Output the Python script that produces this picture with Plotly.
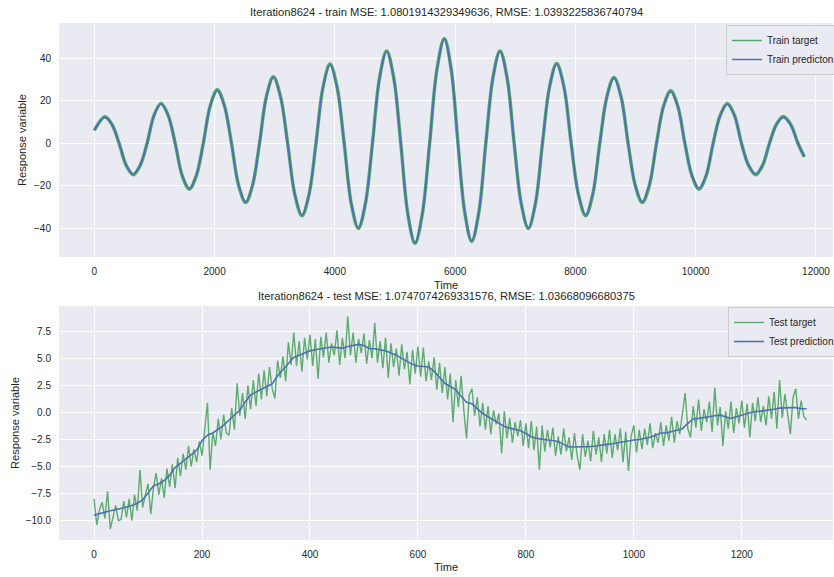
import plotly.graph_objects as go

# ---------------- data ----------------
train_x = [0, 177, 295, 412, 530, 648, 763, 878, 994, 1109, 1227, 1345, 1462, 1580, 1696, 1812,
           1929, 2045, 2163, 2281, 2399, 2517, 2632, 2747, 2862, 2977, 3096, 3215, 3334, 3453,
           3570, 3686, 3803, 3919, 4037, 4155, 4273, 4390, 4508, 4625, 4743, 4861, 4979, 5096,
           5214, 5332, 5454, 5576, 5698, 5820, 5934, 6047, 6161, 6275, 6393, 6510, 6628, 6746,
           6864, 6981, 7099, 7217, 7335, 7452, 7570, 7688, 7809, 7929, 8050, 8170, 8288, 8405,
           8523, 8641, 8759, 8876, 8994, 9112, 9230, 9348, 9466, 9584, 9702, 9820, 9938, 10055,
           10173, 10290, 10408, 10526, 10644, 10761, 10879, 10997, 11112, 11227, 11342, 11457,
           11579, 11700, 11806]
train_pred = [6.3, 12.2, 8.7, 0, -10.2, -14.4, -10.2, 0, 13.1, 18.4, 13.1, 0, -15.1, -21.2, -15.1, 0,
              17.6, 24.8, 17.6, 0, -19.5, -27.5, -19.5, 0, 21.9, 30.9, 21.9, 0, -23.9, -33.7,
              -23.9, 0, 26.2, 36.9, 26.2, 0, -28.2, -39.7, -28.2, 0, 30.6, 43.1, 30.6, 0,
              -33.2, -46.7, -33.2, 0, 34.7, 48.9, 34.7, 0, -32.5, -45.8, -32.5, 0, 30.6, 43.1,
              30.6, 0, -28.2, -39.7, -28.2, 0, 26.4, 37.2, 26.4, 0, -23.9, -33.7, -23.9, 0,
              21.7, 30.6, 21.7, 0, -19.5, -27.5, -19.5, 0, 17.3, 24.3, 17.3, 0, -15.1, -21.2,
              -15.1, 0, 13.0, 18.3, 13.0, 0, -10.2, -14.4, -10.2, 0, 8.7, 12.2,
              8.7, 0, -6.0]
train_target = [6.0, 12.5, 8.8, 0, -10.4, -14.8, -10.4, 0, 13.3, 18.8, 13.3, 0, -15.3, -21.6, -15.3, 0,
                17.8, 25.2, 17.8, 0, -19.7, -27.9, -19.7, 0, 22.1, 31.3, 22.1, 0, -24.1, -34.1,
                -24.1, 0, 26.4, 37.3, 26.4, 0, -28.4, -40.1, -28.4, 0, 30.8, 43.5, 30.8, 0,
                -33.4, -47.1, -33.4, 0, 34.9, 49.3, 34.9, 0, -32.7, -46.2, -32.7, 0, 30.8, 43.5,
                30.8, 0, -28.4, -40.1, -28.4, 0, 26.6, 37.6, 26.6, 0, -24.1, -34.1, -24.1, 0,
                21.9, 31.0, 21.9, 0, -19.7, -27.9, -19.7, 0, 17.5, 24.7, 17.5, 0, -15.3, -21.6,
                -15.3, 0, 13.2, 18.7, 13.2, 0, -10.4, -14.8, -10.4, 0, 8.9, 12.6,
                8.9, 0, -6.4]

test_pred_x = list(range(0, 1330, 10))
test_pred = [-9.5, -9.35, -9.2, -9.1, -9.0, -8.9, -8.75, -8.6, -8.4, -8.1,
             -7.4, -6.8, -6.6, -6.3, -5.8, -5.1, -4.7, -4.3, -3.95, -3.5,
             -2.6, -2.1, -1.9, -1.55, -1.2, -0.7, -0.25, 0.2, 1.0, 1.6,
             1.9, 2.15, 2.4, 2.65, 3.4, 4.0, 4.5, 5.1, 5.3, 5.5,
             5.7, 5.8, 5.9, 6.0, 6.05, 6.0, 5.95, 6.1, 6.2, 6.3,
             6.2, 5.9, 5.9, 5.8, 5.7, 5.5, 5.3, 5.0, 4.7, 4.45,
             4.3, 4.25, 4.2, 3.8, 3.2, 2.7, 2.4, 2.1, 1.5, 0.95,
             0.8, 0.35, -0.1, -0.4, -0.7, -1.0, -1.3, -1.45, -1.6, -1.7,
             -1.95, -2.25, -2.4, -2.5, -2.55, -2.6, -2.7, -2.95, -3.2, -3.2,
             -3.2, -3.2, -3.15, -3.1, -3.0, -2.95, -2.9, -2.8, -2.75, -2.65,
             -2.55, -2.5, -2.4, -2.3, -2.1, -1.9, -1.9, -1.75, -1.65, -1.5,
             -1.0, -0.6, -0.55, -0.45, -0.4, -0.3, -0.25, -0.4, -0.55, -0.4,
             -0.25, -0.1, 0.05, 0.1, 0.15, 0.2, 0.3, 0.4, 0.45, 0.45,
             0.45, 0.35, 0.35]

test_x = list(range(0, 1325, 5))
test_target = [
    -8.0, -10.4, -9.0, -8.3, -9.8, -7.3, -10.8, -9.6, -8.6, -10.0,
    -9.9, -8.2, -9.7, -8.0, -10.0, -7.6, -9.1, -5.3, -8.8, -7.6,
    -6.6, -9.4, -7.0, -5.6, -7.6, -6.1, -7.9, -5.2, -6.9, -4.8,
    -7.0, -4.2, -5.9, -3.8, -5.3, -3.1, -5.0, -3.4, -4.6, -2.7,
    -4.0, -1.6, 0.9, -5.3, -1.8, -3.1, -0.6, -2.5, -0.2, -1.9,
    -2.1, 0.4, -1.6, 2.7, -0.3, 1.8, -0.6, 2.5, 0.3, 3.0,
    0.6, 3.6, 1.2, 3.9, 1.5, 4.2, 2.2, 1.3, 4.8, 3.2,
    5.2, 2.9, 6.5, 4.4, 7.4, 4.3, 6.6, 3.8, 6.9, 4.9,
    7.2, 4.3, 6.8, 3.1, 7.0, 5.1, 7.4, 4.6, 6.4, 5.3,
    7.6, 4.4, 6.9, 5.0, 8.9, 5.3, 7.4, 4.6, 6.8, 5.5,
    7.3, 4.5, 6.7, 5.0, 8.3, 4.6, 6.6, 4.1, 6.9, 3.2,
    6.4, 4.2, 5.9, 3.4, 6.3, 4.0, 5.6, 2.6, 5.8, 3.6,
    6.1, 3.3, 6.0, 2.9, 4.7, 3.0, 5.1, 2.1, 4.6, 1.8,
    4.2, 1.2, 3.6, -0.9, 3.0, 0.5, 3.4, 0.2, -2.4, 1.6,
    2.2, -0.3, 1.4, -1.3, 0.9, -1.6, 0.6, -2.0, 0.2, -1.1,
    -0.1, -3.8, 0.1, -2.4, -0.5, -2.8, -0.9, -2.2, -0.7, -3.1,
    -1.0, -3.3, -0.8, -3.5, -1.3, -5.3, -1.2, -3.6, -1.6, -3.2,
    -1.4, -4.0, -2.2, -3.9, -1.5, -3.6, -2.3, -4.4, -1.9, -4.0,
    -5.3, -2.0, -4.1, -2.6, -4.5, -1.7, -3.9, -2.3, -4.6, -2.0,
    -3.8, -1.6, -4.2, -2.0, -3.5, -1.5, -4.6, -1.8, -5.4, -2.2,
    -1.2, -3.7, -1.6, -3.4, -1.5, -3.0, -1.0, -3.3, -1.9, -2.8,
    -0.9, -3.1, -1.2, -2.6, -0.4, -2.8, -0.8, -2.0, 0.1, 1.8,
    -1.5, -2.3, 0.6, -1.4, 1.2, -1.7, 0.3, -0.9, 1.0, -1.8,
    2.3, -1.2, 0.5, -3.1, 0.1, -1.5, 1.0, -1.9, 0.4, -1.0,
    1.1, -1.4, 0.8, -2.3, 0.9, -0.8, 1.4, -0.9, 0.6, -1.2,
    1.5, -0.6, 1.9, -1.5, 3.0, -0.5, 1.7, -0.2, -2.0, 1.4,
    2.2, -0.6, 1.1, -0.4, -0.7]

top_xticks = [0, 2000, 4000, 6000, 8000, 10000, 12000]
top_xtext = ["0", "2000", "4000", "6000", "8000", "10000", "12000"]
top_yticks = [-40, -20, 0, 20, 40]
top_ytext = ["\u221240", "\u221220", "0", "20", "40"]
bot_xticks = [0, 200, 400, 600, 800, 1000, 1200]
bot_xtext = ["0", "200", "400", "600", "800", "1000", "1200"]
bot_yticks = [-10, -7.5, -5, -2.5, 0, 2.5, 5, 7.5]
bot_ytext = ["\u221210.0", "\u22127.5", "\u22125.0", "\u22122.5", "0.0", "2.5", "5.0", "7.5"]

title_top = "Iteration8624 - train MSE: 1.0801914329349636, RMSE: 1.0393225836740794"
title_bot = "Iteration8624 - test MSE: 1.0747074269331576, RMSE: 1.03668096680375"

# ---------------- style ----------------
GREEN = "#55A868"
BLUE = "#4C72B0"
BG = "#EAEAF2"
TXT = "#262626"
FONT = "Liberation Sans, Arial, sans-serif"

W, H = 834, 577
ML, MR, MT, MB = 59, 1, 23, 37
PH = H - MT - MB  # 517
PW = W - ML - MR  # 774


def py(px):
    return (H - MB - px) / PH


def pxx(px):
    return (px - ML) / PW


fig = go.Figure()
# top: noisy target drawn as a band under the prediction
fig.add_trace(go.Scatter(x=train_x, y=train_target, mode="lines", name="Train target",
                         line=dict(color=GREEN, width=3.4, shape="spline", smoothing=1.0),
                         xaxis="x", yaxis="y", showlegend=False))
fig.add_trace(go.Scatter(x=train_x, y=train_pred, mode="lines", name="Train predicton",
                         line=dict(color=BLUE, width=1.8, shape="spline", smoothing=1.0),
                         xaxis="x", yaxis="y", showlegend=False))
# legend entries (no data) with the thin legend line style
fig.add_trace(go.Scatter(x=[None], y=[None], mode="lines", name="Train target",
                         line=dict(color=GREEN, width=1.5), xaxis="x", yaxis="y", legend="legend"))
fig.add_trace(go.Scatter(x=[None], y=[None], mode="lines", name="Train predicton",
                         line=dict(color=BLUE, width=1.5), xaxis="x", yaxis="y", legend="legend"))

fig.add_trace(go.Scatter(x=test_x, y=test_target, mode="lines", name="Test target",
                         line=dict(color=GREEN, width=1.4), opacity=0.95,
                         xaxis="x2", yaxis="y2", legend="legend2"))
fig.add_trace(go.Scatter(x=test_pred_x, y=test_pred, mode="lines", name="Test prediction",
                         line=dict(color=BLUE, width=1.6),
                         xaxis="x2", yaxis="y2", legend="legend2"))

axis_common = dict(showgrid=True, gridcolor="white", gridwidth=1.2, zeroline=False,
                   showline=False, ticks="outside", ticklen=5, automargin=False,
                   tickcolor="rgba(0,0,0,0)", tickfont=dict(size=10, color=TXT, family=FONT))

legend_common = dict(x=1.009, xanchor="right", yanchor="top", bgcolor=BG,
                     bordercolor="#CCCCCC", borderwidth=1,
                     font=dict(size=10, color=TXT, family=FONT),
                     tracegroupgap=0, itemwidth=30)

fig.update_layout(
    width=W, height=H,
    margin=dict(l=ML, r=MR, t=MT, b=MB, autoexpand=False),
    paper_bgcolor="white", plot_bgcolor=BG,
    font=dict(family=FONT, size=10, color=TXT),
    xaxis=dict(domain=[0, 1], anchor="y", range=[-587, 12283], tickvals=top_xticks,
               ticktext=top_xtext, **axis_common),
    yaxis=dict(domain=[py(257), 1], anchor="x", range=[-53.5, 56.6], tickvals=top_yticks,
               ticktext=top_ytext, **axis_common),
    xaxis2=dict(domain=[0, 1], anchor="y2", range=[-65, 1369], tickvals=bot_xticks,
                ticktext=bot_xtext, **axis_common),
    yaxis2=dict(domain=[0, py(306)], anchor="x2", range=[-11.8, 9.85], tickvals=bot_yticks,
                ticktext=bot_ytext, **axis_common),
    legend=dict(y=py(25), **legend_common),
    legend2=dict(y=py(307), **legend_common),
    showlegend=True,
)

TF = dict(size=11.2, color=TXT, family=FONT)
LF = dict(size=11.1, color=TXT, family=FONT)
ann = [
    dict(text=title_top, x=0.5, y=py(12), xref="paper", yref="paper", showarrow=False,
         xanchor="center", yanchor="middle", font=TF),
    dict(text=title_bot, x=0.5, y=py(296), xref="paper", yref="paper", showarrow=False,
         xanchor="center", yanchor="middle", font=TF),
    dict(text="Time", x=pxx(446), y=py(285), xref="paper", yref="paper", showarrow=False,
         xanchor="center", yanchor="middle", font=LF),
    dict(text="Time", x=pxx(446), y=py(567), xref="paper", yref="paper", showarrow=False,
         xanchor="center", yanchor="middle", font=LF),
    dict(text="Response variable", x=pxx(22), y=py(140), xref="paper", yref="paper",
         showarrow=False, textangle=-90, xanchor="center", yanchor="middle", font=LF),
    dict(text="Response variable", x=pxx(15), y=py(423), xref="paper", yref="paper",
         showarrow=False, textangle=-90, xanchor="center", yanchor="middle", font=LF),
]
fig.update_layout(annotations=ann)

fig.write_html(
    "out.html",
    config={"displayModeBar": False},
    post_script="document.body.style.margin='0';document.body.style.padding='0';"
                "document.documentElement.style.overflow='hidden';",
)
